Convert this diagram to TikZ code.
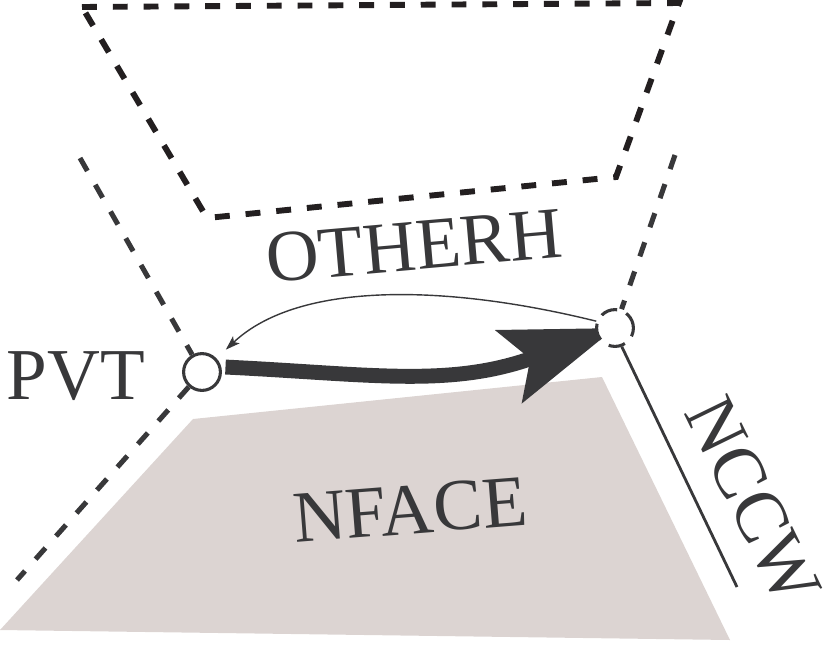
\documentclass[tikz,border=0pt]{standalone}
\usepackage{fontspec}
\setmainfont{Liberation Serif}
\usetikzlibrary{arrows.meta, backgrounds}

\definecolor{inkgray}{RGB}{56,56,58}
\definecolor{inkdark}{RGB}{35,31,32}
\definecolor{facegray}{RGB}{220,212,210}

\begin{document}
\begin{tikzpicture}[
    x=0.025cm, y=-0.025cm,
    >=Stealth,
    % Style definitions
    caption/.style={font=\fontsize{52}{52}\selectfont, text=inkgray, inner sep=0pt},
    vertex/.style={circle, draw=inkgray, line width=2.2pt, minimum size=0.92cm, inner sep=0pt, fill=white},
    hidden vertex/.style={vertex, dash pattern=on 12pt off 7pt},
    dashline/.style={draw=inkgray, line width=3.6pt, dash pattern=on 10.6pt off 11.3pt},
    frameline/.style={draw=inkdark, line width=4.2pt, dash pattern=on 10.6pt off 11.3pt},
    solidline/.style={draw=inkgray, line width=2pt},
    heavy arrow/.style={-{Stealth[length=2.8cm, width=1.9cm, inset=0.55cm]}, line width=10.6pt, draw=inkgray},
    thin arrow/.style={-{Stealth[length=0.36cm, width=0.24cm, inset=0.08cm]}, line width=1pt, draw=inkgray},
]
\useasboundingbox (0,0) rectangle (830,647);

%% ---------- VERTICES ----------
\node[vertex] (pvt) at (202,372) {};
\node[hidden vertex] (other) at (615,328) {};

%% ---------- FREE ENDS ----------
\coordinate (upper_left) at (80,158);
\coordinate (lower_left) at (17,580);
\coordinate (upper_right) at (675,155);
\coordinate (nccw_end) at (737,587);

%% ---------- LABELS ----------
\node[caption] (pvt_label) at (76,376) {PVT};
\node[caption, rotate=5] (otherh_label) at (414,246) {OTHERH};
\node[caption, rotate=4.5] (nface_label) at (410,510) {NFACE};
\node[caption, rotate=-64] (nccw_label) at (753,501) {NCCW};

%% ========== FACES AND EDGES ==========
\begin{scope}[on background layer]
    % neighbouring face
    \fill[facegray] (193,419) -- (602,377) -- (730,640) -- (0,630) -- cycle;

    % other face, hidden
    \draw[frameline] (82,7) -- (679,3) -- (616,177) -- (207,218) -- cycle;

    % edges at the vertices
    \draw[dashline] (upper_left) -- (pvt);
    \draw[dashline] (pvt) -- (lower_left);
    \draw[dashline] (upper_right) -- (other);
    \draw[solidline] (other.-70) -- (nccw_end);

    % half edge and its twin
    \draw[heavy arrow, shorten <=3pt] (pvt.15) .. controls (370,374) and (450,388) .. (other.center);
    \draw[thin arrow, shorten >=9pt] (other.160) .. controls (450,285) and (300,280) .. (pvt);
\end{scope}

\end{tikzpicture}
\end{document}
